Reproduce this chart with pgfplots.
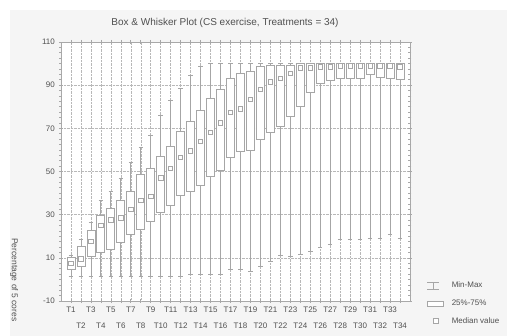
\documentclass[border=0pt]{standalone}
\usepackage{pgfplots}
\pgfplotsset{compat=1.18}
\usepgfplotslibrary{statistics}
\usepackage{fontspec}
\setmainfont{Liberation Sans}
\definecolor{bxc}{HTML}{A6A6A6}
\definecolor{axc}{HTML}{A8A8A8}
\definecolor{txt}{HTML}{505050}
\definecolor{panel}{HTML}{F5F5F5}
\pgfplotsset{
  bx/.style={draw=bxc, line width=0.8pt, fill=white, forget plot},
}
% lower whisker, lower quartile, median, upper quartile, upper whisker, position
\newcommand\bp[6]{\addplot[bx, boxplot prepared={draw direction=y, box extend=0.8, whisker extend=0.45,
  lower whisker=#1, lower quartile=#2, median=#3, upper quartile=#4, upper whisker=#5,
  draw position=#6}, boxplot/draw/median/.code={}] coordinates {};}
\begin{document}
\begin{tikzpicture}
\useasboundingbox (0pt,0pt) rectangle (507pt,336pt);
\clip (0pt,0pt) rectangle (507pt,336pt);
\fill[white] (0pt,0pt) rectangle (507pt,336pt);
\fill[panel] (10pt,0pt) rectangle (507pt,326pt);
\begin{axis}[
  at={(61pt,35pt)}, anchor=south west, scale only axis,
  width=349pt, height=259pt,
  axis background/.style={fill=white},
  axis line style={axc, line width=0.8pt},
  xmin=0, xmax=35, ymin=-10, ymax=110,
  ytick={-10,10,30,50,70,90,110},
  minor y tick num=7,
  xtick={1,3,...,33},
  xticklabels={T1,T3,T5,T7,T9,T11,T13,T15,T17,T19,T21,T23,T25,T27,T29,T31,T33},
  extra x ticks={2,4,...,34},
  extra x tick labels={T2,T4,T6,T8,T10,T12,T14,T16,T18,T20,T22,T24,T26,T28,T30,T32,T34},
  extra x tick style={grid=major, tick label style={yshift=-16pt}},
  xticklabel style={yshift=-3pt},
  yticklabel style={xshift=-3pt},
  tick style={axc, line width=0.6pt},
  tick align=center,
  major tick length=4pt, minor tick length=3pt,
  grid=major,
  major grid style={densely dotted, color=black!28, line width=0.5pt},
  tick label style={font=\fontsize{8}{9}\selectfont, text=txt, inner sep=1pt},
  /pgf/number format/assume math mode=true,
  legend style={at={(1.0487,-0.0077)}, anchor=west, draw=none, fill=none,
    inner sep=0pt, outer sep=0pt, row sep=11.5pt,
    font=\fontsize{8}{9}\selectfont, text=txt,
    nodes={inner sep=0pt, text height=5pt, text depth=1pt}},
  legend cell align=left,
  /tikz/every odd column/.append style={column sep=8pt},
]
\addlegendimage{legend image code/.code={\draw[bxc, line width=0.8pt] (0pt,-3.5pt)--(12pt,-3.5pt) (0pt,3.5pt)--(12pt,3.5pt) (6pt,-3.5pt)--(6pt,3.5pt);}}
\addlegendentry{Min-Max}
\addlegendimage{legend image code/.code={\draw[bxc, line width=0.8pt, fill=white] (0pt,-2.5pt) rectangle (16pt,2.5pt);}}
\addlegendentry{25\%-75\%}
\addlegendimage{legend image code/.code={\draw[bxc, line width=0.8pt, fill=white] (6.5pt,-2.5pt) rectangle (11.5pt,2.5pt);}}
\addlegendentry{Median value}

\bp{1.5}{4.6}{7.4}{10}{11}{1}
\bp{1.5}{6}{9.5}{15.5}{18.5}{2}
\bp{1.5}{10.5}{17.5}{22.5}{26.5}{3}
\bp{1.5}{12.5}{25}{29.5}{36.5}{4}
\bp{1.5}{14}{27.5}{33}{41}{5}
\bp{1.5}{17}{28.5}{36.5}{47}{6}
\bp{1.5}{21}{32.5}{41}{54}{7}
\bp{1.5}{23}{36.5}{48.5}{61}{8}
\bp{1.5}{27}{38.5}{51.5}{66.5}{9}
\bp{1.5}{31}{47}{57}{76}{10}
\bp{1.5}{34.5}{51.5}{61.5}{83}{11}
\bp{1.5}{39}{56.5}{68.5}{88.5}{12}
\bp{2.5}{41}{59.5}{73}{94.5}{13}
\bp{2.5}{43.5}{64}{78.5}{98.5}{14}
\bp{2.5}{47.5}{68}{84}{100}{15}
\bp{2.5}{50.5}{72.5}{88}{100}{16}
\bp{4.5}{56.5}{77.5}{93}{100}{17}
\bp{4.5}{59.5}{79}{95.5}{100}{18}
\bp{3.5}{60}{83.5}{96.5}{100}{19}
\bp{6}{65}{88}{98.5}{100}{20}
\bp{8.5}{68}{91.5}{99}{100}{21}
\bp{11}{71}{93}{99}{100}{22}
\bp{10.5}{75.5}{95.5}{99}{100}{23}
\bp{11.5}{80}{98}{100}{100}{24}
\bp{13}{86.5}{98}{100}{100}{25}
\bp{15}{91}{98.5}{100}{100}{26}
\bp{16}{92}{98.5}{100}{100}{27}
\bp{18.5}{93}{99}{100}{100}{28}
\bp{18.5}{93}{99}{100}{100}{29}
\bp{18.5}{93}{99}{100}{100}{30}
\bp{19}{95}{99}{100}{100}{31}
\bp{19}{93.5}{99}{100}{100}{32}
\bp{21}{93}{99}{100}{100}{33}
\bp{19}{92.5}{98.5}{100}{100}{34}

\addplot[only marks, forget plot, mark=square*, mark size=2.2pt,
  mark options={fill=white, draw=bxc, line width=0.8pt}] coordinates {
(1,7.4) (2,9.5) (3,17.5) (4,25) (5,27.5) (6,28.5) (7,32.5) (8,36.5) (9,38.5) (10,47)
(11,51.5) (12,56.5) (13,59.5) (14,64) (15,68) (16,72.5) (17,77.5) (18,79) (19,83.5) (20,88)
(21,91.5) (22,93) (23,95.5) (24,98) (25,98) (26,98.5) (27,98.5) (28,99) (29,99) (30,99)
(31,99) (32,99) (33,99) (34,98.5)
};
\end{axis}
\node[font=\fontsize{10}{11}\selectfont, text=txt] at (225pt,313pt) {Box \& Whisker Plot (CS exercise, Treatments = 34)};
\node[rotate=-90, anchor=west, inner sep=0pt, font=\fontsize{8.5}{9}\selectfont, text=txt] at (14pt,98pt) {Percentage of 5 cores};
\end{tikzpicture}
\end{document}
